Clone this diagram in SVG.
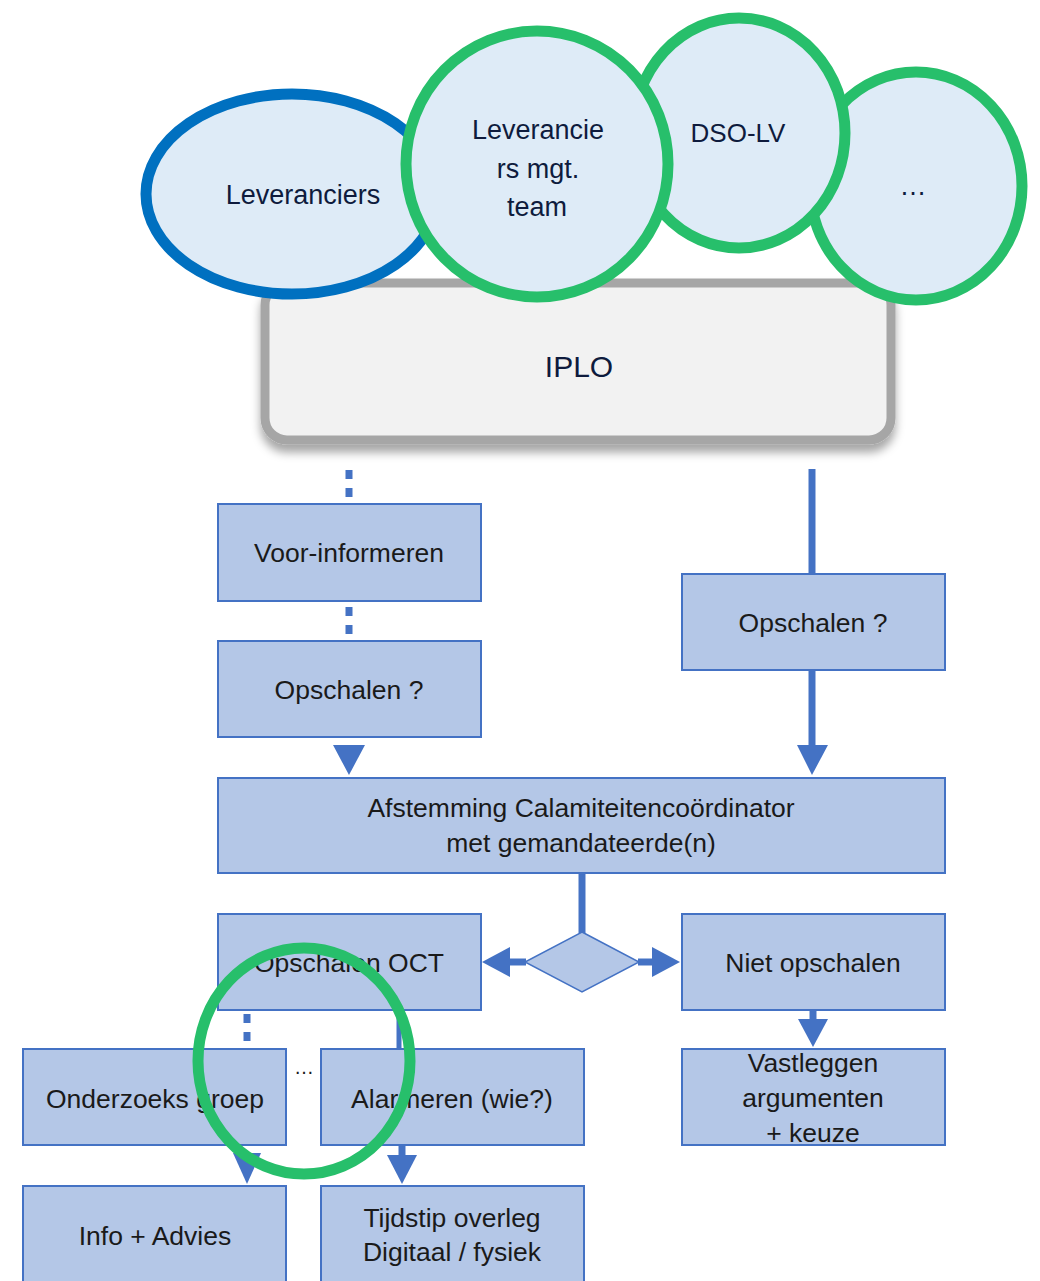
<svg xmlns="http://www.w3.org/2000/svg" width="1040" height="1281" viewBox="0 0 1040 1281">
<defs>
<style>
.ell{fill:#DEEBF7;stroke-width:11}
.g{stroke:#27BF6B}
.b{stroke:#0070C0}
.et{font-family:"Liberation Sans",Arial,sans-serif;font-size:27px;fill:#0E1B3D;text-anchor:middle}
.box{fill:#B4C7E7;stroke:#4472C4;stroke-width:2}
.bt{font-family:"Liberation Sans",Arial,sans-serif;font-size:26.5px;fill:#1A1A1A;text-anchor:middle}
.ln{stroke:#4472C4;stroke-width:7;fill:none}
.dot{stroke:#4472C4;stroke-width:7;fill:none;stroke-dasharray:9 9}
.ah{fill:#4472C4}
</style>
<filter id="sh" x="-10%" y="-20%" width="120%" height="150%">
<feDropShadow dx="0" dy="8" stdDeviation="5" flood-color="#000" flood-opacity="0.35"/>
</filter>
</defs>

<g id="iplo">
<rect x="265" y="283" width="626" height="157" rx="22" fill="#F2F2F2" stroke="#A6A6A6" stroke-width="9" filter="url(#sh)"/>
<text class="et" x="579" y="377" style="font-size:30px">IPLO</text>
</g>

<g id="ell-more">
<ellipse class="ell g" cx="916" cy="186" rx="106" ry="114"/>
<text class="et" x="913" y="195">…</text>
</g>
<g id="ell-dso">
<ellipse class="ell g" cx="739" cy="133" rx="106" ry="115"/>
<text class="et" x="738" y="142" style="font-size:26px">DSO-LV</text>
</g>
<g id="ell-lev">
<ellipse class="ell b" cx="292" cy="194" rx="146" ry="100"/>
<text class="et" x="303" y="204">Leveranciers</text>
</g>
<g id="ell-mgt">
<ellipse class="ell g" cx="537" cy="164" rx="131" ry="133"/>
<text class="et" x="538" y="139">Leverancie</text>
<text class="et" x="538" y="178">rs mgt.</text>
<text class="et" x="537" y="216">team</text>
</g>

<g id="connectors">
<line class="dot" x1="349" y1="470" x2="349" y2="499"/>
<line class="dot" x1="349" y1="607" x2="349" y2="636"/>
<polygon class="ah" points="333,745 365,745 349,775"/>
<line class="ln" x1="812" y1="469" x2="812" y2="574"/>
<line class="ln" x1="812" y1="670" x2="812" y2="748"/>
<polygon class="ah" points="797,745 828,745 812,775"/>
<line class="ln" x1="582" y1="873" x2="582" y2="933"/>
<line class="ln" x1="526" y1="962" x2="508" y2="962"/>
<polygon class="ah" points="510,947 510,977 482,962"/>
<line class="ln" x1="638" y1="962" x2="655" y2="962"/>
<polygon class="ah" points="652,947 652,977 680,962"/>
<line class="ln" x1="813" y1="1010" x2="813" y2="1022"/>
<polygon class="ah" points="798,1019 828,1019 813,1047"/>
<line class="dot" x1="247" y1="1014" x2="247" y2="1043"/>
<line class="ln" x1="399" y1="1010" x2="399" y2="1049" style="stroke-width:5"/>
<polygon class="ah" points="233,1153 261,1153 247,1184"/>
<line class="ln" x1="402" y1="1145" x2="402" y2="1158"/>
<polygon class="ah" points="387,1155 417,1155 402,1184"/>
</g>

<g id="voor">
<rect class="box" x="218" y="504" width="263" height="97"/>
<text class="bt" x="349" y="562">Voor-informeren</text>
</g>
<g id="opschalen-l">
<rect class="box" x="218" y="641" width="263" height="96"/>
<text class="bt" x="349" y="699">Opschalen ?</text>
</g>
<g id="opschalen-r">
<rect class="box" x="682" y="574" width="263" height="96"/>
<text class="bt" x="813" y="632">Opschalen ?</text>
</g>
<g id="afstemming">
<rect class="box" x="218" y="778" width="727" height="95"/>
<text class="bt" x="581" y="817">Afstemming Calamiteitencoördinator</text>
<text class="bt" x="581" y="852">met gemandateerde(n)</text>
</g>
<g id="diamond">
<polygon points="582,932 639,962 582,992 525,962" fill="#B4C7E7" stroke="#4472C4" stroke-width="1.5"/>
</g>
<g id="oct">
<rect class="box" x="218" y="914" width="263" height="96"/>
<text class="bt" x="349" y="972">Opschalen OCT</text>
</g>
<g id="niet">
<rect class="box" x="682" y="914" width="263" height="96"/>
<text class="bt" x="813" y="972">Niet opschalen</text>
</g>
<g id="onderzoek">
<rect class="box" x="23" y="1049" width="263" height="96"/>
<text class="bt" x="155" y="1108">Onderzoeks groep</text>
</g>
<g id="alarm">
<rect class="box" x="321" y="1049" width="263" height="96"/>
<text class="bt" x="452" y="1108">Alarmeren (wie?)</text>
</g>
<g id="vast">
<rect class="box" x="682" y="1049" width="263" height="96"/>
<text class="bt" x="813" y="1072">Vastleggen</text>
<text class="bt" x="813" y="1107">argumenten</text>
<text class="bt" x="813" y="1142">+ keuze</text>
</g>
<g id="info">
<rect class="box" x="23" y="1186" width="263" height="100"/>
<text class="bt" x="155" y="1245">Info + Advies</text>
</g>
<g id="tijdstip">
<rect class="box" x="321" y="1186" width="263" height="100"/>
<text class="bt" x="452" y="1227">Tijdstip overleg</text>
<text class="bt" x="452" y="1261">Digitaal / fysiek</text>
</g>
<g id="ellipsis">
<text class="bt" x="304" y="1074" style="font-size:20px">…</text>
</g>
<g id="highlight">
<ellipse cx="304" cy="1061" rx="106" ry="113" fill="none" stroke="#27BF6B" stroke-width="11"/>
</g>
</svg>
